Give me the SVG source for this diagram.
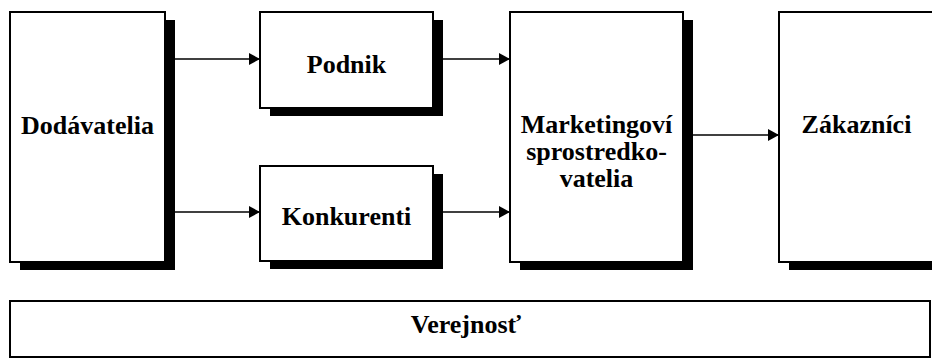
<svg xmlns="http://www.w3.org/2000/svg" width="932" height="358" viewBox="0 0 932 358">
  <style>
    .box { fill: #ffffff; stroke: #000000; stroke-width: 2; }
    .shadow { fill: #000000; }
    .lbl { font-family: "Liberation Serif", "Times New Roman", serif; font-weight: bold; font-size: 26px; fill: #000000; text-anchor: middle; }
    .wire { stroke: #000000; stroke-width: 1.6; fill: none; marker-end: url(#head); }
  </style>
  <defs>
    <marker id="head" viewBox="0 0 11 12" refX="11" refY="6" markerWidth="11" markerHeight="12" markerUnits="userSpaceOnUse" orient="auto">
      <path d="M0,0 L11,6 L0,12 Z" fill="#000000"/>
    </marker>
  </defs>
  <rect width="932" height="358" fill="#ffffff"/>

  <g id="dodavatelia">
    <rect class="shadow" x="20" y="20" width="155" height="250"/>
    <rect class="box" x="10" y="12" width="155" height="250"/>
    <text class="lbl" x="87.5" y="134">Dodávatelia</text>
  </g>

  <g id="podnik">
    <rect class="shadow" x="270" y="20" width="173" height="96"/>
    <rect class="box" x="260" y="12" width="173" height="96"/>
    <text class="lbl" x="346.5" y="73">Podnik</text>
  </g>

  <g id="konkurenti">
    <rect class="shadow" x="270" y="174" width="173" height="95"/>
    <rect class="box" x="260" y="166" width="173" height="95"/>
    <text class="lbl" x="346.5" y="225">Konkurenti</text>
  </g>

  <g id="sprostredkovatelia">
    <rect class="shadow" x="520" y="20" width="173" height="250"/>
    <rect class="box" x="510" y="12" width="173" height="250"/>
    <text class="lbl" x="596.5" y="133">Marketingoví</text>
    <text class="lbl" x="596.5" y="160">sprostredko-</text>
    <text class="lbl" x="596.5" y="187">vatelia</text>
  </g>

  <g id="zakaznici">
    <rect class="shadow" x="789" y="20" width="155" height="250"/>
    <rect class="box" x="779" y="12" width="155" height="250"/>
    <text class="lbl" x="856.5" y="133">Zákazníci</text>
  </g>

  <g id="verejnost">
    <rect class="box" x="10" y="301" width="920" height="56"/>
    <text class="lbl" x="466" y="333">Verejnosť</text>
  </g>

  <g id="connectors">
    <line class="wire" x1="175" y1="59" x2="260" y2="59"/>
    <line class="wire" x1="175" y1="212" x2="260" y2="212"/>
    <line class="wire" x1="443" y1="59" x2="510" y2="59"/>
    <line class="wire" x1="443" y1="212" x2="510" y2="212"/>
    <line class="wire" x1="693" y1="135" x2="779" y2="135"/>
  </g>
</svg>
